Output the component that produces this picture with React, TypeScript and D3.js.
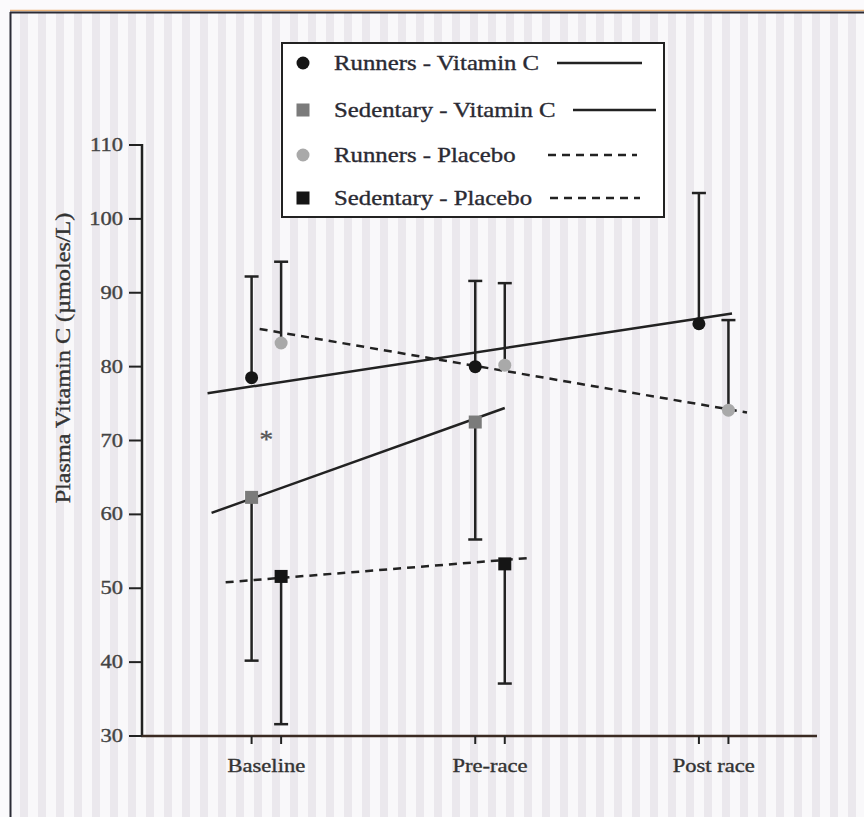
import React from "react";
import * as d3 from "d3";

const timepoints = ["Baseline", "Pre-race", "Post race"];
const yTicks = [30, 40, 50, 60, 70, 80, 90, 100, 110];

// Vitamin C groups sit on the left tick of each timepoint, placebo on the right
const runnersVitC = [78.5, 80.0, 85.8];
const runnersVitCUpper = [92.2, 91.6, 103.5];
const sedentaryVitC = [62.3, 72.5];
const sedentaryVitCLower = [40.2, 56.6];
const runnersPlacebo = [83.2, 80.2, 74.1];
const runnersPlaceboUpper = [94.2, 91.3, 86.3];
const sedentaryPlacebo = [51.6, 53.3];
const sedentaryPlaceboLower = [31.6, 37.1];

// fitted lines, [time, value] ends
const runnersVitCFit = [[-0.197, 76.4], [2.148, 87.2]];
const sedentaryVitCFit = [[-0.179, 60.2], [1.132, 74.4]];
const runnersPlaceboFit = [[0.036, 85.1], [2.215, 73.8]];
const sedentaryPlaceboFit = [[-0.116, 50.8], [1.244, 54.1]];

const legendItems = [
  { label: "Runners - Vitamin C", marker: "circle", fill: "#151515", dash: null, line: [557, 642] },
  { label: "Sedentary - Vitamin C", marker: "square", fill: "#7b7b7b", dash: null, line: [573, 656] },
  { label: "Runners - Placebo", marker: "circle", fill: "#a9a9a9", dash: "8,6", line: [548, 637] },
  { label: "Sedentary - Placebo", marker: "square", fill: "#151515", dash: "8,6", line: [550, 640] },
];

const W = 864;
const H = 817;
const OFF = 0.132;
const ink = "#222";
const font = "'Liberation Serif', 'Times New Roman', serif";

function SText({ x, y, size, sx = 1.2, anchor = "start", rotate = 0, fill = "#333", children }) {
  return (
    <text
      transform={`translate(${x},${y}) rotate(${rotate}) scale(${sx},1)`}
      fontSize={size}
      fontFamily={font}
      textAnchor={anchor}
      fill={fill}
      stroke={fill}
      strokeWidth={0.35}
    >
      {children}
    </text>
  );
}

function Marker({ x, y, kind, fill }) {
  if (kind === "square") return <rect x={x - 6.5} y={y - 6.5} width={13} height={13} fill={fill} />;
  return <circle cx={x} cy={y} r={6.5} fill={fill} />;
}

export default function App() {
  const x = d3.scaleLinear().domain([-0.49, 2.528]).range([142, 817]);
  const y = d3.scaleLinear().domain([30, 110]).range([736, 145]);
  const line = d3.line().x((d) => x(d[0])).y((d) => y(d[1]));

  const bars = [];
  runnersVitC.forEach((v, i) => bars.push({ t: i, a: v, b: runnersVitCUpper[i] }));
  sedentaryVitC.forEach((v, i) => bars.push({ t: i, a: v, b: sedentaryVitCLower[i] }));
  runnersPlacebo.forEach((v, i) => bars.push({ t: i + OFF, a: v, b: runnersPlaceboUpper[i] }));
  sedentaryPlacebo.forEach((v, i) => bars.push({ t: i + OFF, a: v, b: sedentaryPlaceboLower[i] }));

  const fits = [
    { d: runnersVitCFit, dash: null },
    { d: sedentaryVitCFit, dash: null },
    { d: runnersPlaceboFit, dash: "8,6" },
    { d: sedentaryPlaceboFit, dash: "8,6" },
  ];

  return (
    <svg width={W} height={H} style={{ position: "absolute", left: 0, top: 0 }}>
      <defs>
        <pattern id="stripes" width={18} height={4} patternUnits="userSpaceOnUse">
          <rect width={18} height={4} fill="#f9f8fa" />
          <rect x={2} width={8} height={4} fill="#ebe8ed" />
        </pattern>
      </defs>
      <rect width={W} height={H} fill="#fbfafc" />
      <rect x={10} y={12} width={W - 10} height={H - 12} fill="url(#stripes)" />
      <line x1={10} y1={10.5} x2={W} y2={10.5} stroke="#eab278" strokeWidth={1.5} />
      <line x1={10} y1={12.5} x2={W} y2={12.5} stroke="#2b2b35" strokeWidth={2} />
      <line x1={10.5} y1={12} x2={10.5} y2={H} stroke="#2b2b35" strokeWidth={2} />

      {/* axes */}
      <line x1={142} y1={y(110) - 1} x2={142} y2={736} stroke={ink} strokeWidth={2.5} />
      <line x1={141} y1={736} x2={817} y2={736} stroke="#3a2a22" strokeWidth={2.5} />
      {yTicks.map((t) => (
        <g key={t}>
          <line x1={129} x2={142} y1={y(t)} y2={y(t)} stroke={ink} strokeWidth={2} />
          <SText x={123} y={y(t) + 6} size={18} sx={1.25} anchor="end" fill="#444">
            {t}
          </SText>
        </g>
      ))}
      {timepoints.map((tp, i) => (
        <g key={tp}>
          <line x1={x(i)} x2={x(i)} y1={736} y2={744} stroke={ink} strokeWidth={2} />
          <line x1={x(i + OFF)} x2={x(i + OFF)} y1={736} y2={744} stroke={ink} strokeWidth={2} />
          <SText x={x(i + OFF / 2)} y={772} size={18.5} sx={1.22} anchor="middle" fill="#333">
            {tp}
          </SText>
        </g>
      ))}
      <SText x={70} y={358} size={20.5} sx={1.18} rotate={-90} anchor="middle" fill="#333">
        Plasma Vitamin C (µmoles/L)
      </SText>

      {/* fitted lines */}
      {fits.map((f, i) => (
        <path key={i} d={line(f.d)} fill="none" stroke={ink} strokeWidth={2.5} strokeDasharray={f.dash || undefined} />
      ))}

      {/* error bars */}
      {bars.map((b, i) => (
        <g key={i} stroke={ink} strokeWidth={2.5}>
          <line x1={x(b.t)} x2={x(b.t)} y1={y(b.a)} y2={y(b.b)} />
          <line x1={x(b.t) - 7} x2={x(b.t) + 7} y1={y(b.b)} y2={y(b.b)} />
        </g>
      ))}

      {/* points */}
      {runnersVitC.map((v, i) => <Marker key={"a" + i} x={x(i)} y={y(v)} kind="circle" fill="#151515" />)}
      {sedentaryVitC.map((v, i) => <Marker key={"b" + i} x={x(i)} y={y(v)} kind="square" fill="#7b7b7b" />)}
      {runnersPlacebo.map((v, i) => <Marker key={"c" + i} x={x(i + OFF)} y={y(v)} kind="circle" fill="#a9a9a9" />)}
      {sedentaryPlacebo.map((v, i) => <Marker key={"d" + i} x={x(i + OFF)} y={y(v)} kind="square" fill="#151515" />)}

      <SText x={x(OFF / 2)} y={y(70.5) + 11} size={26} sx={1.05} anchor="middle" fill="#555">
        *
      </SText>

      {/* legend */}
      <rect x={282} y={43} width={382} height={174} fill="#ffffff" stroke={ink} strokeWidth={2} />
      {legendItems.map((it, i) => {
        const cy = [63, 110, 155, 198][i];
        return (
          <g key={it.label}>
            <Marker x={303} y={cy} kind={it.marker} fill={it.fill} />
            <SText x={334} y={cy + 7} size={21} sx={1.18} fill="#2a2a33">
              {it.label}
            </SText>
            <line x1={it.line[0]} x2={it.line[1]} y1={cy} y2={cy} stroke={ink} strokeWidth={2.5} strokeDasharray={it.dash || undefined} />
          </g>
        );
      })}
    </svg>
  );
}
